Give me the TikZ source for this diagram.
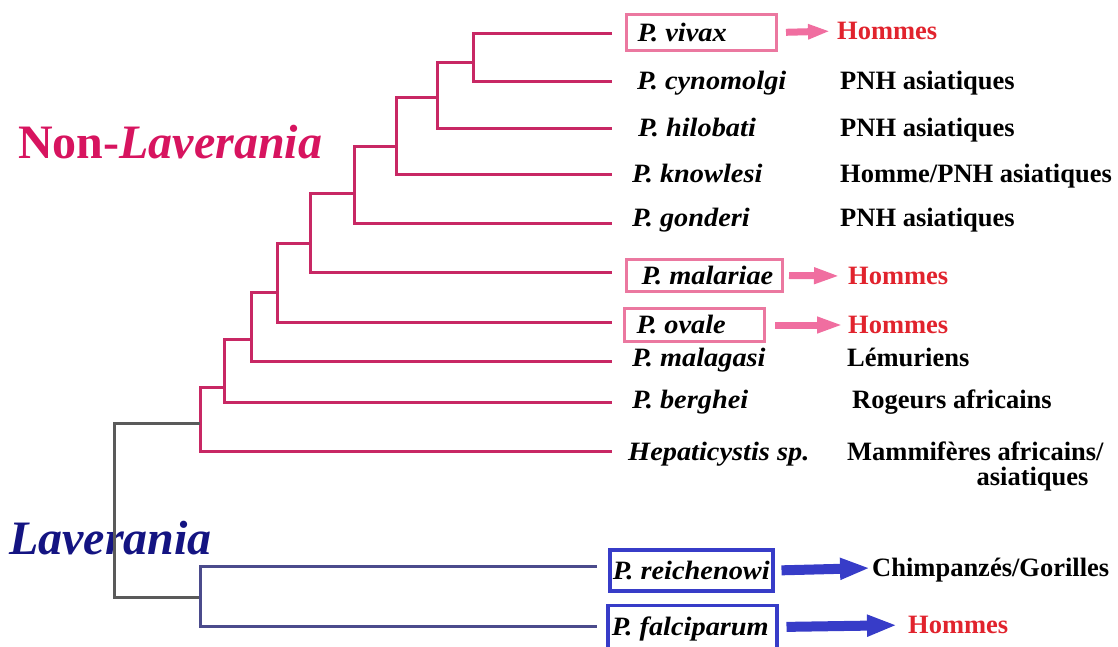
\documentclass[tikz,border=0pt]{standalone}
\usepackage{fontspec}
\setmainfont{Liberation Serif}
\newfontfamily\spfont[FakeStretch=1.07]{Liberation Serif}
\usetikzlibrary{arrows.meta}
\definecolor{treepink}{RGB}{200,40,100}
\definecolor{boxpink}{RGB}{235,120,160}
\definecolor{arrowpink}{RGB}{240,110,160}
\definecolor{hred}{RGB}{225,35,45}
\definecolor{titlepink}{RGB}{215,20,95}
\definecolor{navy}{RGB}{20,20,130}
\definecolor{boxblue}{RGB}{55,60,200}
\definecolor{treeblue}{RGB}{75,75,140}
\definecolor{treegrey}{RGB}{90,90,90}
\begin{document}
\begin{tikzpicture}[x=1pt,y=-1pt,
  sp/.style={font=\spfont\fontsize{26.5}{30}\selectfont\bfseries\itshape, inner sep=0pt, anchor=west, text height=17pt, text depth=0pt},
  host/.style={font=\fontsize{26.5}{30}\selectfont\bfseries, inner sep=0pt, anchor=west, text height=17pt, text depth=0pt},
  redhost/.style={host, text=hred},
  pbox/.style={sp, draw=boxpink, line width=3pt},
  bbox/.style={sp, draw=boxblue, line width=3.5pt},
  ptree/.style={draw=treepink, line width=3pt},
  btree/.style={draw=treeblue, line width=3pt},
  gtree/.style={draw=treegrey, line width=3pt},
  parrow/.style={draw=arrowpink, line width=7pt, -{Triangle[length=26pt,width=15pt]}},
  barrow/.style={draw=boxblue, line width=10pt, -{Triangle[length=30pt,width=20pt]}},
  title/.style={font=\fontsize{48}{50}\selectfont\bfseries, inner sep=0pt, anchor=west}
]
\useasboundingbox (0,0) rectangle (1118,646);

% group titles
\node[title, text=titlepink] (nonlav) at (18,142) {Non-\textit{Laverania}};
\node[title, text=navy] (lav) at (9,538.5) {\textit{Laverania}};

% tips and internal nodes
\coordinate (t1) at (612,33);
\coordinate (t2) at (612,81);
\coordinate (t3) at (612,128);
\coordinate (t4) at (612,174);
\coordinate (t5) at (612,223);
\coordinate (t6) at (612,272);
\coordinate (t7) at (612,322);
\coordinate (t8) at (612,361);
\coordinate (t9) at (612,402);
\coordinate (t10) at (612,451);
\coordinate (t11) at (597,566);
\coordinate (t12) at (597,626);
\coordinate (n1) at (473,62);
\coordinate (n2) at (437,97);
\coordinate (n3) at (396,146);
\coordinate (n4) at (354,193);
\coordinate (n5) at (310,243);
\coordinate (n6) at (277,292);
\coordinate (n7) at (251,339);
\coordinate (n8) at (224,387);
\coordinate (n9) at (200,423);
\coordinate (root) at (114,510);
\coordinate (b1) at (200,597);

% tree
\draw[ptree] (t1) -| (n1) |- (t2);
\draw[ptree] (n1) -| (n2) |- (t3);
\draw[ptree] (n2) -| (n3) |- (t4);
\draw[ptree] (n3) -| (n4) |- (t5);
\draw[ptree] (n4) -| (n5) |- (t6);
\draw[ptree] (n5) -| (n6) |- (t7);
\draw[ptree] (n6) -| (n7) |- (t8);
\draw[ptree] (n7) -| (n8) |- (t9);
\draw[ptree] (n8) -| (n9) |- (t10);
\draw[gtree] (n9) -| (root) |- (b1);
\draw[btree] (t11) -| (b1) |- (t12);

% species
\node[pbox, inner xsep=11.5pt, inner ysep=9.5pt] (vivax) at (624.5,32.5) {\makebox[127pt][l]{P. vivax}};
\node[sp] (cyno) at (637,81) {P. cynomolgi};
\node[sp] (hilo) at (638,128) {P. hilobati};
\node[sp] (know) at (632,174) {P. knowlesi};
\node[sp] (gond) at (632,218) {P. gonderi};
\node[pbox, inner xsep=15.5pt, inner ysep=7.5pt] (mala) at (624.5,275.5) {\makebox[125pt][l]{P. malariae}};
\node[pbox, inner xsep=12.5pt, inner ysep=8pt] (ovale) at (622.5,325) {\makebox[115pt][l]{P. ovale}};
\node[sp] (malg) at (632,358) {P. malagasi};
\node[sp] (berg) at (632,400) {P. berghei};
\node[sp] (hepa) at (628,452) {Hepaticystis sp.};
\node[bbox, inner xsep=3pt, inner ysep=12pt] (reich) at (608,570.5) {\makebox[157pt][l]{P. reichenowi}};
\node[bbox, inner xsep=4pt, inner ysep=13pt] (falc) at (606,627) {\makebox[161pt][l]{P. falciparum}};

% hosts
\node[redhost] (h1) at (837,31) {Hommes};
\node[host] (h2) at (840,81) {PNH asiatiques};
\node[host] (h3) at (840,128) {PNH asiatiques};
\node[host] (h4) at (840,174) {Homme/PNH asiatiques};
\node[host] (h5) at (840,218) {PNH asiatiques};
\node[redhost] (h6) at (848,276) {Hommes};
\node[redhost] (h7) at (848,325) {Hommes};
\node[host] (h8) at (847,358) {Lémuriens};
\node[host] (h9) at (852,400) {Rogeurs africains};
\node[font=\fontsize{26.5}{24.5}\selectfont\bfseries, inner sep=0pt, anchor=north west, align=right] (h10) at (847,442) {Mammifères africains/\\asiatiques\hspace*{15pt}};
\node[host] (h11) at (872,568) {Chimpanzés/Gorilles};
\node[redhost] (h12) at (908,625) {Hommes};

% arrows
\draw[parrow, -{Triangle[length=22pt,width=14pt]}, shorten <=8.5pt, shorten >=7pt] (vivax.east) -- (h1.west);
\draw[parrow, shorten <=5.5pt, shorten >=8pt] (mala.east) -- (h6.west);
\draw[parrow, shorten <=9.5pt, shorten >=5pt] (ovale.east) -- (h7.west);
\draw[barrow, shorten <=7pt, shorten >=2pt] (reich.east) -- (h11.west);
\draw[barrow, shorten <=8pt, shorten >=11pt] (falc.east) -- (h12.west);
\end{tikzpicture}
\end{document}
